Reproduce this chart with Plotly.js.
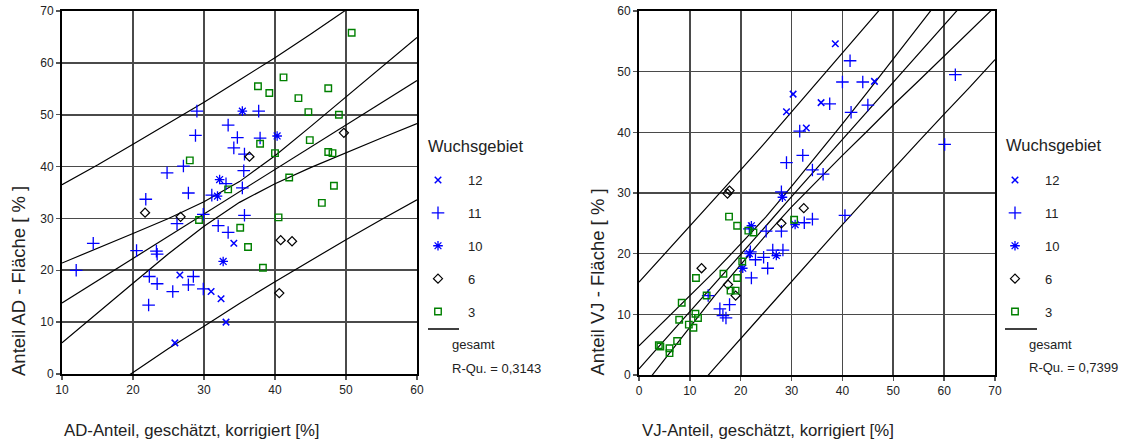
<!DOCTYPE html>
<html>
<head>
<meta charset="utf-8">
<script src="https://cdn.plot.ly/plotly-3.0.1.min.js"></script>
<style>html,body{margin:0;padding:0;background:#fff;}#chart{width:1123px;height:443px;}</style>
</head>
<body>
<div id="chart"></div>
<script>
// ---------- Left chart: AD ----------
const groups = ["12", "11", "10", "6", "3"];

const AD_x12 = [34.2, 26.6, 31.0, 32.4, 33.1, 25.9];
const AD_y12 = [25.2, 19.1, 15.9, 14.5, 10.0, 6.0];

const AD_x11 = [29.0, 37.7, 33.4, 28.8, 34.7, 37.9, 34.2, 35.7, 35.6, 27.1, 24.8, 27.8, 31.1, 33.1, 35.4, 21.8, 29.9, 26.2, 35.7, 32.0, 33.4, 14.4, 20.5, 23.3, 23.4, 12.0, 28.5, 22.3, 23.4, 27.8, 25.6, 29.9, 22.2];
const AD_y11 = [50.7, 50.7, 48.0, 46.0, 45.6, 45.5, 43.6, 42.4, 39.2, 40.1, 38.8, 34.9, 34.5, 36.7, 35.9, 33.7, 30.8, 29.0, 30.6, 28.6, 27.3, 25.2, 23.8, 23.7, 23.1, 20.0, 18.8, 18.8, 17.4, 17.2, 15.9, 16.4, 13.3];

const AD_x10 = [35.4, 40.3, 32.2, 31.9, 32.7];
const AD_y10 = [50.7, 45.9, 37.5, 34.3, 21.7];

const AD_x6 = [36.4, 49.7, 21.7, 26.7, 40.8, 42.4, 40.6];
const AD_y6 = [41.9, 46.5, 31.1, 30.3, 25.8, 25.6, 15.6];

const AD_x3 = [37.6, 41.2, 39.2, 43.3, 44.7, 37.9, 40.0, 44.9, 28.0, 42.0, 33.4, 50.8, 47.5, 49.0, 47.5, 48.1, 48.3, 46.6, 29.3, 40.5, 35.1, 36.2, 38.3];
const AD_y3 = [55.5, 57.2, 54.2, 53.2, 50.5, 44.4, 42.6, 45.1, 41.2, 37.9, 35.6, 65.8, 55.1, 50.0, 42.8, 42.6, 36.3, 33.0, 29.7, 30.2, 28.2, 24.5, 20.5];

// regression line and bands
const AD_lineX   = [10, 15, 20, 25, 30, 35, 40, 45, 50, 55, 60];
const AD_fit     = [13.7, 18.0, 22.3, 26.6, 30.8, 35.1, 39.4, 43.7, 48.0, 52.3, 56.6];
const AD_ciUp    = [21.4, 24.2, 27.1, 30.0, 33.2, 37.1, 42.1, 47.7, 53.4, 59.1, 64.9];
const AD_ciLo    = [6.0, 11.8, 17.5, 23.2, 28.5, 33.1, 36.7, 39.8, 42.7, 45.5, 48.3];
const AD_piUp    = [36.5, 40.3, 44.3, 48.3, 52.4, 56.7, 61.0, 65.5, 70.1, 74.8, 79.6];
const AD_piLo    = [-9.1, -4.3, 0.3, 4.9, 9.2, 13.6, 17.8, 21.9, 25.9, 29.8, 33.6];
const AD_rsq = "R-Qu. = 0,3143";

// ---------- Right chart: VJ ----------
const VJ_x12 = [38.6, 30.3, 29.0, 35.8, 32.9, 46.3];
const VJ_y12 = [54.6, 46.3, 43.4, 44.9, 40.7, 48.4];

const VJ_x11 = [41.5, 40.0, 37.5, 41.7, 31.6, 32.2, 29.0, 34.1, 36.2, 28.0, 44.0, 45.0, 62.2, 60.1, 40.5, 34.1, 32.5, 25.0, 28.0, 21.7, 26.3, 28.3, 24.5, 22.9, 21.9, 25.3, 22.1, 13.6, 17.8, 15.9, 16.5, 17.1];
const VJ_y11 = [51.8, 48.3, 44.7, 43.3, 40.2, 36.2, 35.0, 33.8, 33.1, 30.2, 48.3, 44.5, 49.5, 38.0, 26.3, 25.7, 25.1, 23.7, 23.7, 24.1, 20.6, 20.6, 19.4, 19.0, 20.3, 17.6, 16.0, 13.1, 11.6, 10.9, 9.8, 9.4];

const VJ_x10 = [22.1, 30.7, 27.0, 21.7, 20.4, 28.2];
const VJ_y10 = [24.6, 24.8, 19.7, 20.0, 17.6, 29.3];

const VJ_x6 = [17.4, 17.8, 12.3, 17.5, 19.0, 28.0, 32.4];
const VJ_y6 = [29.9, 30.4, 17.6, 14.9, 13.1, 25.0, 27.5];

const VJ_x3 = [17.7, 19.3, 21.5, 22.5, 30.5, 20.3, 16.6, 11.2, 19.3, 8.4, 13.3, 18.0, 19.0, 11.1, 11.6, 7.9, 9.8, 10.7, 7.5, 3.9, 4.2, 6.0, 6.0];
const VJ_y3 = [26.1, 24.6, 23.8, 23.5, 25.6, 18.7, 16.7, 16.0, 16.0, 11.9, 13.1, 13.9, 13.9, 10.1, 9.4, 9.1, 8.3, 7.8, 5.6, 4.9, 4.7, 4.4, 3.6];

const VJ_lineX = [0, 5, 10, 15, 20, 25, 30, 35, 40, 45, 50, 55, 60, 65, 70];
const VJ_fit   = [1.0, 5.7, 10.5, 15.2, 19.9, 24.6, 29.4, 34.1, 38.8, 43.5, 48.3, 53.0, 57.7, 62.4, 67.2];
const VJ_ciUp  = [4.8, 8.9, 13.1, 17.2, 21.6, 26.1, 31.1, 36.2, 41.4, 46.7, 52.1, 57.5, 62.9, 68.2, 73.7];
const VJ_ciLo  = [-2.8, 2.5, 7.9, 13.2, 18.2, 23.1, 27.7, 32.0, 36.2, 40.3, 44.5, 48.5, 52.6, 56.6, 60.7];
const VJ_piUp  = [15.3, 19.9, 24.5, 29.1, 33.8, 38.5, 43.3, 48.0, 52.8, 57.7, 62.6, 67.5, 72.4, 77.4, 82.5];
const VJ_piLo  = [-13.3, -8.5, -3.5, 1.3, 6.0, 10.7, 15.5, 20.2, 24.8, 29.4, 34.0, 38.5, 43.0, 47.4, 52.0];
const VJ_rsq = "R-Qu. = 0,7399";

// ---------- styling ----------
const BLUE = "#0000ff", GREEN = "#008000", BLACK = "#000000";
const markerStyles = {
  "12": {symbol: "x-thin-open", size: 6.5, color: BLUE, lw: 1.5},
  "11": {symbol: "cross-thin-open", size: 9, color: BLUE, lw: 1.3},
  "10": {symbol: "asterisk-open", size: 8, color: BLUE, lw: 1.3},
  "6":  {symbol: "diamond-open", size: 7, color: BLACK, lw: 1.2},
  "3":  {symbol: "square-open", size: 6.5, color: GREEN, lw: 1.4}
};

const AD_pts = {"12": [AD_x12, AD_y12], "11": [AD_x11, AD_y11], "10": [AD_x10, AD_y10], "6": [AD_x6, AD_y6], "3": [AD_x3, AD_y3]};
const VJ_pts = {"12": [VJ_x12, VJ_y12], "11": [VJ_x11, VJ_y11], "10": [VJ_x10, VJ_y10], "6": [VJ_x6, VJ_y6], "3": [VJ_x3, VJ_y3]};

const traces = [];
function addLines(xs, arrs, xa, ya) {
  arrs.forEach(ys => traces.push({
    x: xs, y: ys, xaxis: xa, yaxis: ya, type: "scatter", mode: "lines",
    line: {color: "#000", width: 1.2}, showlegend: false, hoverinfo: "skip"
  }));
}
addLines(AD_lineX, [AD_fit, AD_ciUp, AD_ciLo, AD_piUp, AD_piLo], "x", "y");
addLines(VJ_lineX, [VJ_fit, VJ_ciUp, VJ_ciLo, VJ_piUp, VJ_piLo], "x2", "y2");

function addPoints(pts, xa, ya, legendId, prefix) {
  groups.forEach(g => {
    const s = markerStyles[g];
    traces.push({
      x: pts[g][0], y: pts[g][1], xaxis: xa, yaxis: ya, type: "scatter", mode: "markers",
      name: g, legend: legendId, legendgroup: prefix + g,
      marker: {symbol: s.symbol, size: s.size, color: s.color, line: {color: s.color, width: s.lw}}
    });
  });
}
addPoints(AD_pts, "x", "y", "legend", "ad");
addPoints(VJ_pts, "x2", "y2", "legend2", "vj");

const FONT = "Liberation Sans, Arial, Helvetica, sans-serif";
function axis(extra) {
  return Object.assign({
    showline: true, mirror: true, linecolor: "#000", linewidth: 2,
    showgrid: true, gridcolor: "#4a4a4a", gridwidth: 1.6, zeroline: false,
    ticks: "outside", ticklen: 4, tickcolor: "#555", tickwidth: 1.5,
    tickfont: {family: FONT, size: 12, color: "#222"}, dtick: 10, fixedrange: true
  }, extra);
}

const W = 1123, H = 443;
const px = v => v / W, py = v => 1 - v / H;

const legendCommon = {
  bgcolor: "rgba(0,0,0,0)", borderwidth: 0, font: {family: FONT, size: 13, color: "#222"},
  traceorder: "grouped", tracegroupgap: 13, xanchor: "left", yanchor: "top", orientation: "v",
  itemwidth: 50
};

const layout = {
  width: W, height: H, margin: {l: 0, r: 0, t: 0, b: 0},
  paper_bgcolor: "#fff", plot_bgcolor: "#fff",
  font: {family: FONT, size: 12, color: "#222"},
  showlegend: true,
  xaxis: axis({domain: [px(62), px(417)], range: [10, 60], anchor: "y"}),
  yaxis: axis({domain: [py(374), py(11)], range: [0, 70], anchor: "x"}),
  xaxis2: axis({domain: [px(639), px(995)], range: [0, 70], anchor: "y2"}),
  yaxis2: axis({domain: [py(375), py(11)], range: [0, 60], anchor: "x2"}),
  legend: Object.assign({}, legendCommon, {x: px(408), y: py(165)}),
  legend2: Object.assign({}, legendCommon, {x: px(985), y: py(165)}),
  shapes: [
    {type: "line", xref: "paper", yref: "paper", x0: px(428), x1: px(459), y0: py(329), y1: py(329), line: {color: "#000", width: 1.5}},
    {type: "line", xref: "paper", yref: "paper", x0: px(1005), x1: px(1037), y0: py(329), y1: py(329), line: {color: "#000", width: 1.5}}
  ],
  annotations: [
    {text: "Wuchsgebiet", xref: "paper", yref: "paper", x: px(426), y: py(146), xanchor: "left", yanchor: "middle", showarrow: false, font: {family: FONT, size: 16.5, color: "#222"}},
    {text: "Wuchsgebiet", xref: "paper", yref: "paper", x: px(1004), y: py(145), xanchor: "left", yanchor: "middle", showarrow: false, font: {family: FONT, size: 16.5, color: "#222"}},
    {text: "gesamt", xref: "paper", yref: "paper", x: px(450), y: py(344), xanchor: "left", yanchor: "middle", showarrow: false, font: {family: FONT, size: 13, color: "#222"}},
    {text: AD_rsq, xref: "paper", yref: "paper", x: px(450), y: py(368), xanchor: "left", yanchor: "middle", showarrow: false, font: {family: FONT, size: 13, color: "#222"}},
    {text: "gesamt", xref: "paper", yref: "paper", x: px(1027), y: py(344), xanchor: "left", yanchor: "middle", showarrow: false, font: {family: FONT, size: 13, color: "#222"}},
    {text: VJ_rsq, xref: "paper", yref: "paper", x: px(1027), y: py(367), xanchor: "left", yanchor: "middle", showarrow: false, font: {family: FONT, size: 13, color: "#222"}},
    {text: "AD-Anteil, geschätzt, korrigiert [%]", xref: "paper", yref: "paper", x: px(62), y: py(430), xanchor: "left", yanchor: "middle", showarrow: false, font: {family: FONT, size: 16.8, color: "#222"}},
    {text: "VJ-Anteil, geschätzt, korrigiert [%]", xref: "paper", yref: "paper", x: px(640), y: py(430), xanchor: "left", yanchor: "middle", showarrow: false, font: {family: FONT, size: 16.8, color: "#222"}},
    {text: "Anteil AD - Fläche [ % ]", xref: "paper", yref: "paper", x: px(18), y: py(378), xanchor: "center", yanchor: "bottom", textangle: -90, showarrow: false, font: {family: FONT, size: 18.5, color: "#222"}},
    {text: "Anteil VJ - Fläche [ % ]", xref: "paper", yref: "paper", x: px(597), y: py(378), xanchor: "center", yanchor: "bottom", textangle: -90, showarrow: false, font: {family: FONT, size: 18.5, color: "#222"}}
  ]
};

Plotly.newPlot("chart", traces, layout, {displayModeBar: false, staticPlot: true});
</script>
</body>
</html>
